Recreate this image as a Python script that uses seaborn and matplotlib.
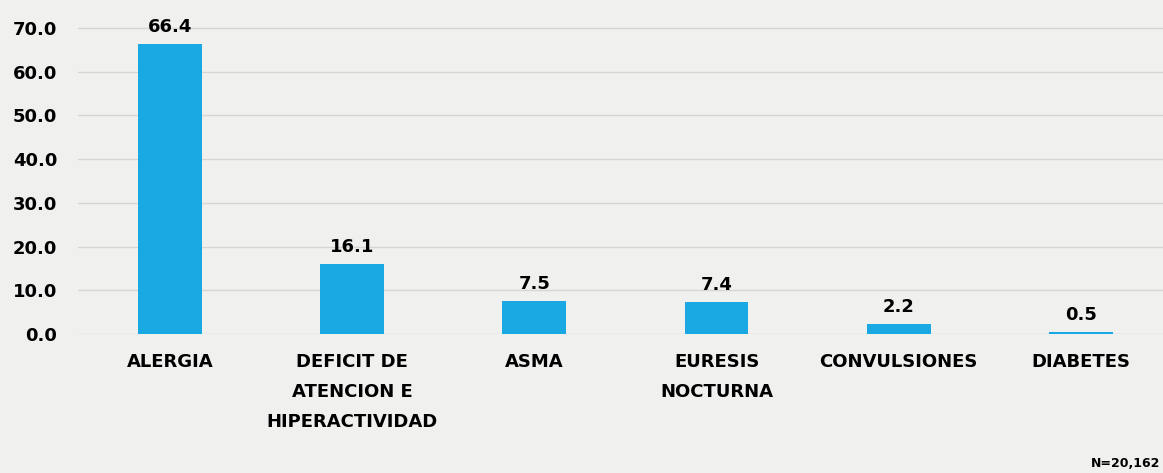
import matplotlib
matplotlib.use("Agg")
import matplotlib.pyplot as plt
import seaborn as sns
import pandas as pd

categorias = ["ALERGIA", "DEFICIT DE\nATENCION E\nHIPERACTIVIDAD", "ASMA",
              "EURESIS\nNOCTURNA", "CONVULSIONES", "DIABETES"]
porcentajes = [66.4, 16.1, 7.5, 7.4, 2.2, 0.5]
yticks = [0, 10, 20, 30, 40, 50, 60, 70]

df = pd.DataFrame({"cat": categorias, "pct": porcentajes})

sns.set_style("white")
plt.rcParams['font.family'] = ['DejaVu Sans']
plt.rcParams['text.color'] = 'black'
plt.rcParams['xtick.color'] = 'black'
plt.rcParams['ytick.color'] = 'black'
bg = "#f0f0ef"

fig = plt.figure(figsize=(11.63, 4.73), dpi=100, facecolor=bg)
ax = fig.add_axes([0.067, 0.294, 0.933, 0.706])
ax.set_facecolor(bg)

sns.barplot(data=df, x="cat", y="pct", color="#1aa8e2", width=0.35,
            saturation=1, edgecolor="none", ax=ax, zorder=3)

ax.set_ylim(0, 76.4)
ax.set_xlim(-0.505, 5.45)
ax.set_yticks(yticks)
ax.set_yticklabels([f"{v:.1f}" for v in yticks], fontsize=13, fontweight='bold')
ax.tick_params(axis='y', length=0, pad=15)
ax.tick_params(axis='x', length=0, pad=14)
for lbl in ax.get_xticklabels():
    lbl.set_fontsize(13)
    lbl.set_fontweight('bold')
    lbl.set_linespacing(1.85)
    lbl.set_verticalalignment('top')
ax.set_xlabel("")
ax.set_ylabel("")
ax.grid(axis='y', color='#d8d6d4', linewidth=1, zorder=0)
for s in ax.spines.values():
    s.set_visible(False)

for i, v in enumerate(porcentajes):
    ax.text(i, v + 1.8, f"{v:.1f}", ha='center', va='bottom',
            fontsize=13, fontweight='bold', zorder=4)

fig.text(1160 / 1163, 1 - 463 / 473, "N=20,162", fontsize=9,
         fontweight='bold', ha='right', va='center')

fig.savefig("out.png", dpi=100, facecolor=bg)
